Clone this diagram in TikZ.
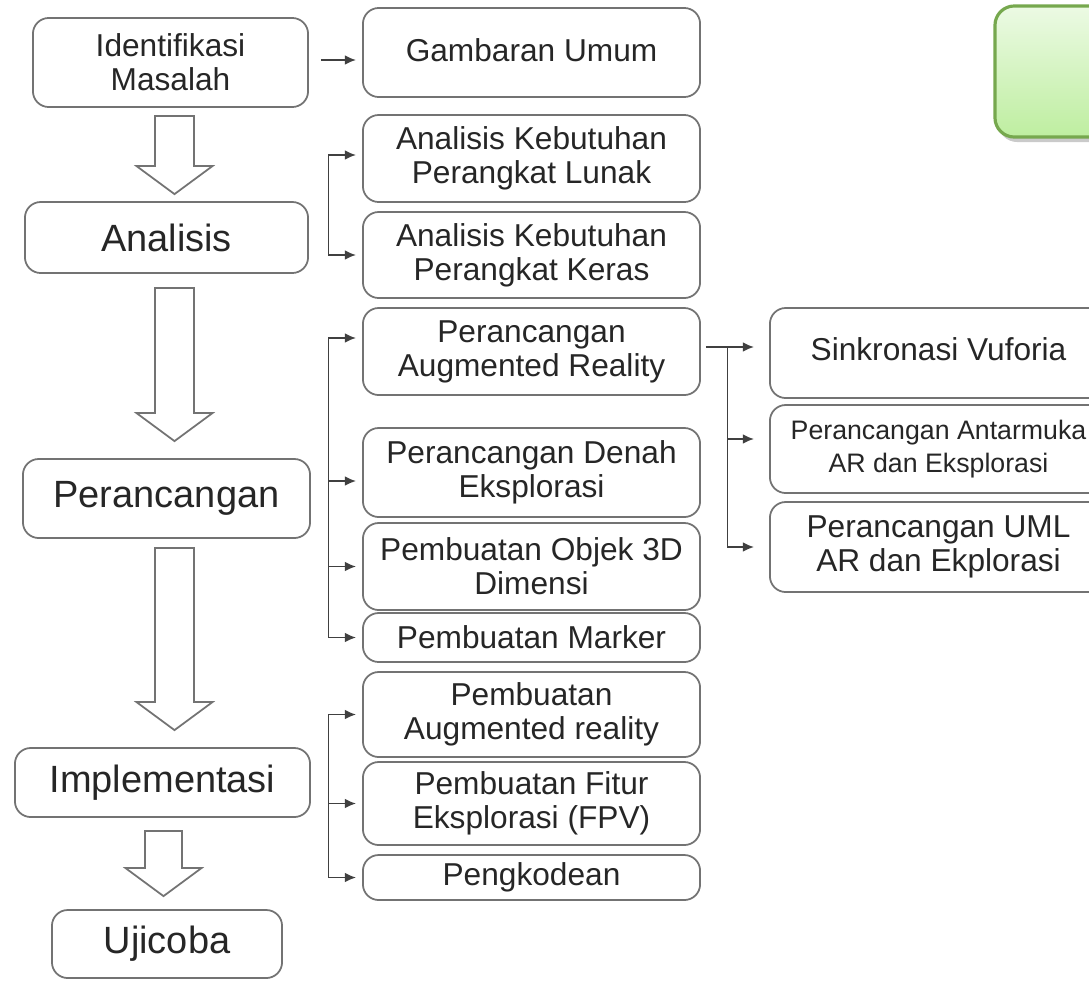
\documentclass[tikz,border=0pt]{standalone}
\usepackage{fontspec}
\setmainfont{Liberation Sans}
\usetikzlibrary{arrows.meta,positioning,calc,shadows}

\definecolor{notetop}{RGB}{236,250,228}
\definecolor{notebot}{RGB}{190,238,160}
\definecolor{noteline}{RGB}{118,168,78}

\tikzset{
  box/.style={draw=black!55, line width=0.5pt, rounded corners=4.5pt, align=center,
    inner sep=0pt, text=black!85, font=\fontsize{9}{9.6}\selectfont},
  bigbox/.style={box, font=\fontsize{10.8}{12}\selectfont},
  mid/.style={box, minimum width=3.37cm},
  link/.style={draw=black!75, line width=0.5pt, -{Latex[length=3.2pt,width=2.8pt]}, shorten >=0.06cm},
  twoway/.style={link, {Latex[length=3.2pt,width=2.8pt]}-{Latex[length=3.2pt,width=2.8pt]}, shorten <=0.06cm},
  hollow/.style={draw=black!55, line width=0.5pt, fill=white},
  memo/.style={draw=noteline, line width=0.9pt, rounded corners=5.5pt, top color=notetop, bottom color=notebot,
    drop shadow={shadow xshift=0.03cm, shadow yshift=-0.05cm, opacity=0.35, fill=black!60}}
}

% hollow down arrow: #1 top of shaft, #2 tip, #3 half shaft width
\newcommand{\blockdown}[3]{%
  \draw[hollow] let \p1=(#1), \p2=(#2) in
    (\x1-#3,\y1) -- (\x1+#3,\y1) -- (\x1+#3,\y2+7.97pt) -- (\x1+10.8pt,\y2+7.97pt)
    -- (\x1,\y2) -- (\x1-10.8pt,\y2+7.97pt) -- (\x1-#3,\y2+7.97pt) -- cycle;}

\begin{document}
\begin{tikzpicture}[x=0.01cm,y=-0.01cm]
  \useasboundingbox (0,0) rectangle (1089,981);
  \clip (0,0) rectangle (1089,981);

  % left column
  \node[box, minimum width=2.75cm, minimum height=0.89cm] (idm) at (170.5,62.5) {Identifikasi\\Masalah};
  \node[bigbox, minimum width=2.83cm, minimum height=0.71cm] (ana) at (166.5,237.5) {Analisis};
  \node[bigbox, minimum width=2.87cm, minimum height=0.79cm] (per) at (166.5,498.5) {Perancangan};
  \node[bigbox, minimum width=2.95cm, minimum height=0.69cm] (imp) at (162.5,782.5) {Implementasi};
  \node[bigbox, minimum width=2.30cm, minimum height=0.68cm] (uji) at (167,944) {Ujicoba};

  % middle column
  \node[mid, minimum height=0.89cm] (gam) at (531.5,52.5) {\raisebox{0.05cm}{Gambaran Umum}};
  \node[mid, minimum height=0.87cm] (apl) at (531.5,158.5) {Analisis Kebutuhan\\Perangkat Lunak};
  \node[mid, minimum height=0.86cm] (apk) at (531.5,255) {Analisis Kebutuhan\\Perangkat Keras};
  \node[mid, minimum height=0.87cm] (par) at (531.5,351.5) {Perancangan\\Augmented Reality};
  \node[mid, minimum height=0.89cm] (pde) at (531.5,472.5) {Perancangan Denah\\Eksplorasi};
  \node[mid, minimum height=0.87cm] (pob) at (531.5,566.5) {Pembuatan Objek 3D\\Dimensi};
  \node[mid, minimum height=0.49cm] (pma) at (531.5,637.5) {Pembuatan Marker};
  \node[mid, minimum height=0.85cm] (pba) at (531.5,714.5) {Pembuatan\\Augmented reality};
  \node[mid, minimum height=0.83cm] (pfe) at (531.5,803.5) {Pembuatan Fitur\\Eksplorasi (FPV)};
  \node[mid, minimum height=0.45cm] (pko) at (531.5,877.5) {Pengkodean};

  % right column
  \node[mid, minimum height=0.90cm] (sin) at (938.5,353) {\raisebox{0.07cm}{Sinkronasi Vuforia}};
  \node[mid, minimum height=0.88cm, font=\fontsize{7.6}{9.4}\selectfont] (pan) at (938.5,449) {Perancangan Antarmuka\\AR dan Eksplorasi};
  \node[mid, minimum height=0.90cm] (pum) at (938.5,547) {Perancangan UML\\AR dan Ekplorasi};

  \node[memo, minimum width=1.65cm, minimum height=1.31cm] (note) at (1077.5,71.5) {};

  % block arrows
  \coordinate (spine) at (174.5,0);
  \coordinate (spine2) at (163.5,0);
  \blockdown{[yshift=-0.08cm]spine |- idm.south}{[yshift=0.07cm]spine |- ana.north}{5.53pt}
  \blockdown{[yshift=-0.14cm]spine |- ana.south}{[yshift=0.17cm]spine |- per.north}{5.53pt}
  \blockdown{[yshift=-0.09cm]spine |- per.south}{[yshift=0.17cm]spine |- imp.north}{5.53pt}
  \blockdown{[yshift=-0.13cm]spine2 |- imp.south}{[yshift=0.13cm]spine2 |- uji.north}{5.25pt}

  % connectors
  \coordinate (bus) at (328.5,0);
  \coordinate (rbus) at (727.5,0);
  \draw[link] ([xshift=0.12cm,yshift=0.025cm]idm.east) -- ([yshift=0.025cm]idm.east -| gam.west);

  \draw[twoway] ([yshift=0.035cm]apl.west) -- ([yshift=0.035cm]bus |- apl.west) -- (bus |- apk.west) -- (apk.west);

  \draw[twoway] ([yshift=0.135cm]par.west) -- ([yshift=0.135cm]bus |- par.west) -- (bus |- pma.west) -- (pma.west);
  \draw[link] ([yshift=-0.085cm]bus |- pde.west) -- ([yshift=-0.085cm]pde.west);
  \draw[link] (bus |- pob.west) -- (pob.west);

  \draw[twoway] (pba.west) -- (bus |- pba.west) -- (bus |- pko.west) -- (pko.west);
  \draw[link] (bus |- pfe.west) -- (pfe.west);

  \draw[link, shorten >=0.15cm] ([xshift=0.05cm,yshift=0.045cm]par.east) -- ([yshift=0.045cm]par.east -| sin.west);
  \draw[link, shorten >=0.15cm] ([yshift=0.045cm]rbus |- par.east) |- (pum.west);
  \draw[link, shorten >=0.15cm] ([yshift=0.1cm]rbus |- pan.west) -- ([yshift=0.1cm]pan.west);
\end{tikzpicture}
\end{document}
